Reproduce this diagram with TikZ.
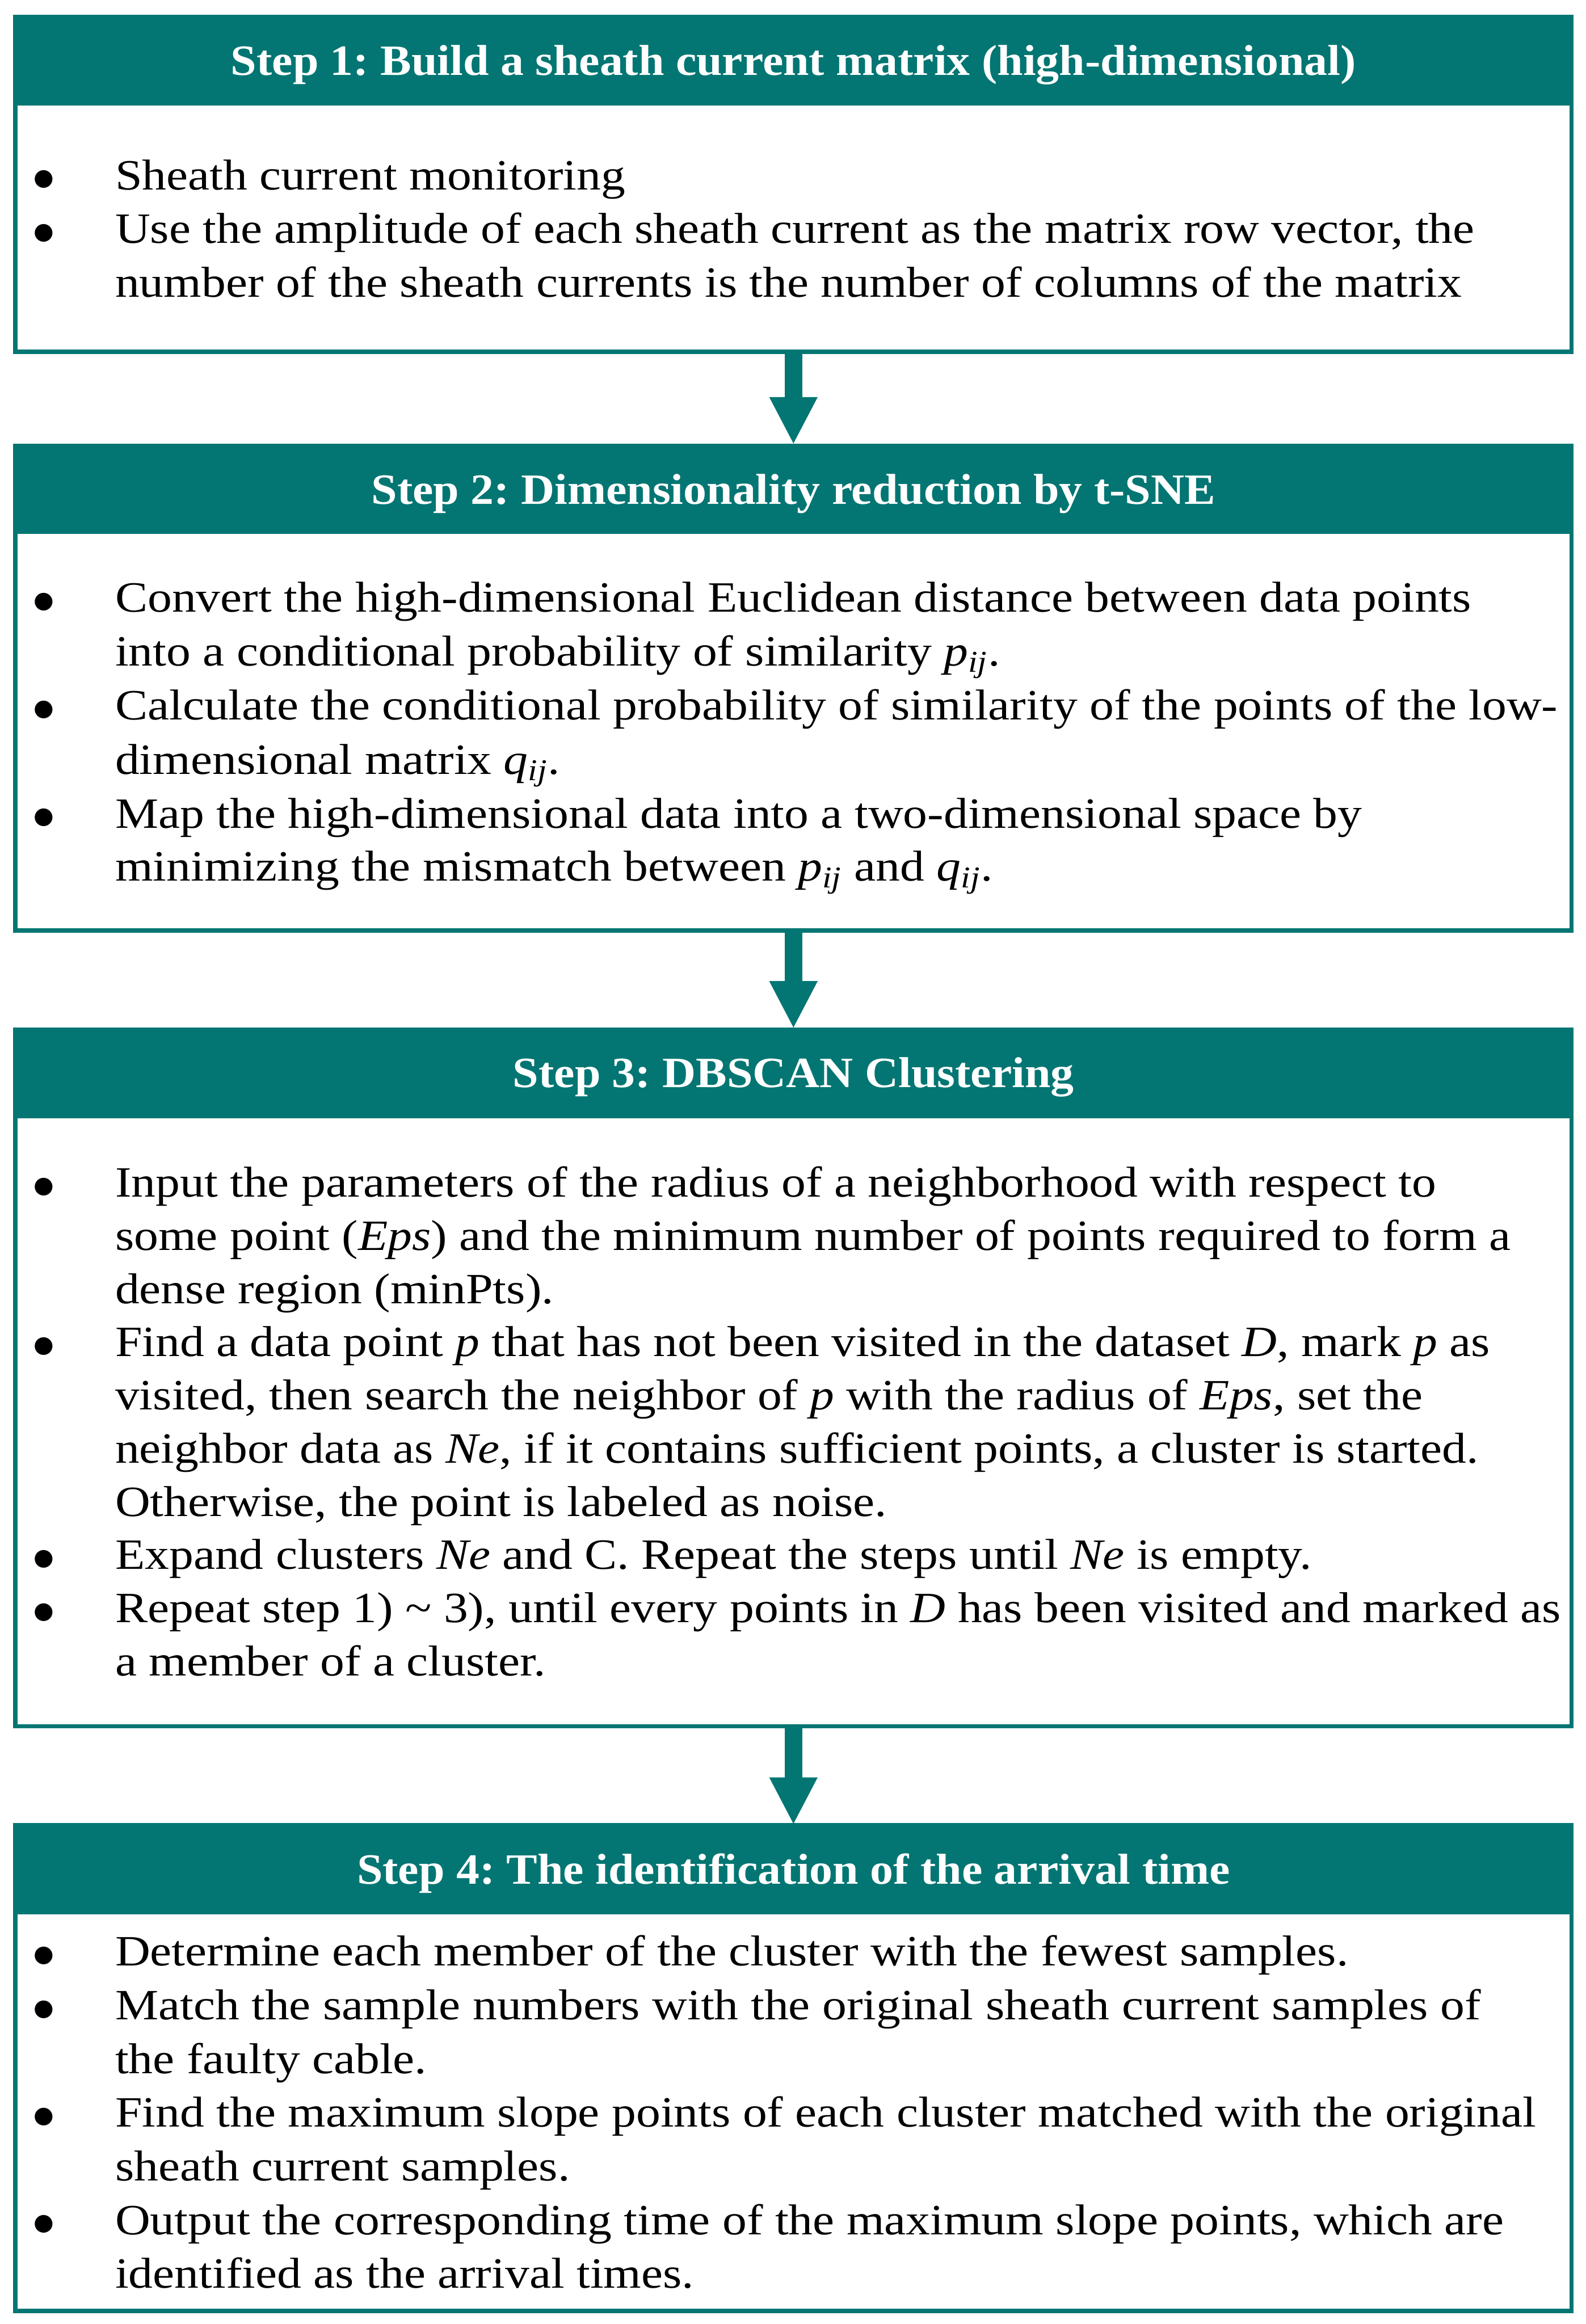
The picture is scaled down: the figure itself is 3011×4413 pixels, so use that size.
\documentclass[tikz,border=0pt]{standalone}
\usepackage{fontspec}
\setmainfont[FakeStretch=1.125]{Liberation Serif}
\newfontfamily\titlefamily[FakeStretch=1.075]{Liberation Serif}
\newfontfamily\bulletfamily{DejaVu Sans}
\usetikzlibrary{arrows.meta}
\definecolor{tealc}{RGB}{3,118,115}
\newcommand\bodyfont{\fontsize{20.5pt}{25.4pt}\selectfont}
\newcommand\ssub[1]{\textsubscript{\textit{#1}}}
\newcommand\bigbul{\raisebox{2pt}{\bulletfamily\fontsize{11pt}{12pt}\selectfont ●}}
\frenchspacing
\begin{document}
\begin{tikzpicture}[x=0.25pt,y=-0.25pt,
  boxframe/.style={draw=tealc, line width=2pt, rectangle, inner sep=0pt, minimum width=738.75pt},
  headbar/.style={fill=tealc, rectangle, inner sep=0pt, outer sep=0pt, minimum width=740.75pt, minimum height=43pt},
  title/.style={anchor=base, inner sep=0pt, text=white, font=\titlefamily\bodyfont\bfseries},
  body/.style={anchor=base west, inner sep=0pt, font=\bodyfont},
  bul/.style={anchor=base, inner sep=0pt},
  flow/.style={draw=tealc, fill=tealc, line width=8.5pt, -{Triangle[width=23pt,length=22pt,line width=0pt]}}]
\useasboundingbox (0,0) rectangle (3011,4413);

% ---- Step 1
\node[boxframe, minimum height=159pt] (b1) at (1506.5,350) {};
\node[headbar] (h1) at (1506.5,114.5) {};
\node[title] (s1) at (1506.5,143) {Step 1: Build a sheath current matrix (high-dimensional)};
\node[bul] (u1a) at (83,360) {\bigbul};
\node[body] (t1a) at (218,360) {Sheath current monitoring};
\node[bul] (u1b) at (83,462) {\bigbul};
\node[body] (t1b) at (218,462) {Use the amplitude of each sheath current as the matrix row vector, the};
\node[body] (t1c) at (218,564) {number of the sheath currents is the number of columns of the matrix};

% ---- Step 2
\node[boxframe, minimum height=230.25pt] (b2) at (1506.5,1306.5) {};
\node[headbar] (h2) at (1506.5,928) {};
\node[title] (s2) at (1506.5,957) {Step 2: Dimensionality reduction by t-SNE};
\node[bul] (u2a) at (83,1162) {\bigbul};
\node[body] (t2a) at (218,1162) {Convert the high-dimensional Euclidean distance between data points};
\node[body] (t2b) at (218,1264) {into a conditional probability of similarity \textit{p}\ssub{ij}.};
\node[bul] (u2b) at (83,1367) {\bigbul};
\node[body] (t2c) at (218,1367) {Calculate the conditional probability of similarity of the points of the low-};
\node[body] (t2d) at (218,1470) {dimensional matrix \textit{q}\ssub{ij}.};
\node[bul] (u2c) at (83,1572) {\bigbul};
\node[body] (t2e) at (218,1572) {Map the high-dimensional data into a two-dimensional space by};
\node[body] (t2f) at (218,1673) {minimizing the mismatch between \textit{p}\ssub{ij} and \textit{q}\ssub{ij}.};

% ---- Step 3
\node[boxframe, minimum height=330.75pt] (b3) at (1506.5,2616.5) {};
\node[headbar] (h3) at (1506.5,2037) {};
\node[title] (s3) at (1506.5,2065) {Step 3: DBSCAN Clustering};
\node[bul] (u3a) at (83,2273) {\bigbul};
\node[body] (t3a) at (218,2273) {Input the parameters of the radius of a neighborhood with respect to};
\node[body] (t3b) at (218,2374) {some point (\textit{Eps}) and the minimum number of points required to form a};
\node[body] (t3c) at (218,2475) {dense region (minPts).};
\node[bul] (u3b) at (83,2576) {\bigbul};
\node[body] (t3d) at (218,2576) {Find a data point \textit{p} that has not been visited in the dataset \textit{D}, mark \textit{p} as};
\node[body] (t3e) at (218,2677) {visited, then search the neighbor of \textit{p} with the radius of \textit{Eps}, set the};
\node[body] (t3f) at (218,2778) {neighbor data as \textit{Ne}, if it contains sufficient points, a cluster is started.};
\node[body] (t3g) at (218,2879) {Otherwise, the point is labeled as noise.};
\node[bul] (u3c) at (83,2980) {\bigbul};
\node[body] (t3h) at (218,2980) {Expand clusters \textit{Ne} and C. Repeat the steps until \textit{Ne} is empty.};
\node[bul] (u3d) at (83,3081) {\bigbul};
\node[body] (t3i) at (218,3081) {Repeat step 1) \textasciitilde{} 3), until every points in \textit{D} has been visited and marked as};
\node[body] (t3j) at (218,3182) {a member of a cluster.};

% ---- Step 4
\node[boxframe, minimum height=230.5pt] (b4) at (1506.5,3927) {};
\node[headbar] (h4) at (1506.5,3549) {};
\node[title] (s4) at (1506.5,3577) {Step 4: The identification of the arrival time};
\node[bul] (u4a) at (83,3733) {\bigbul};
\node[body] (t4a) at (218,3733) {Determine each member of the cluster with the fewest samples.};
\node[bul] (u4b) at (83,3835) {\bigbul};
\node[body] (t4b) at (218,3835) {Match the sample numbers with the original sheath current samples of};
\node[body] (t4c) at (218,3937) {the faulty cable.};
\node[bul] (u4c) at (83,4039) {\bigbul};
\node[body] (t4d) at (218,4039) {Find the maximum slope points of each cluster matched with the original};
\node[body] (t4e) at (218,4141) {sheath current samples.};
\node[bul] (u4d) at (83,4243) {\bigbul};
\node[body] (t4f) at (218,4243) {Output the corresponding time of the maximum slope points, which are};
\node[body] (t4g) at (218,4344) {identified as the arrival times.};

% ---- arrows
\draw[flow] (b1.south) -- (h2.north);
\draw[flow] (b2.south) -- (h3.north);
\draw[flow] (b3.south) -- (h4.north);
\end{tikzpicture}
\end{document}
